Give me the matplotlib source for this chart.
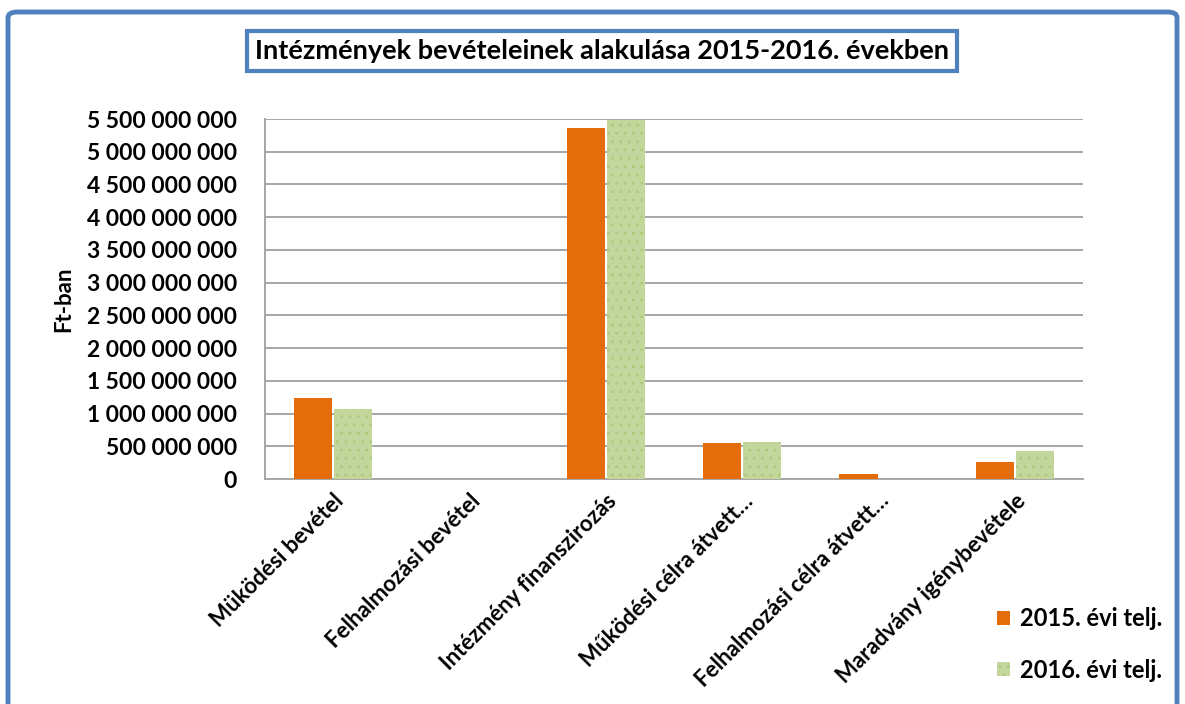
import numpy as np
import matplotlib.pyplot as plt
from matplotlib.patches import FancyBboxPatch
from matplotlib.ticker import FuncFormatter

plt.rcParams['font.family'] = ['Lato', 'DejaVu Sans']
plt.rcParams['hatch.linewidth'] = 0.8

# Data (Ft)
categories = ['Müködési bevétel', 'Felhalmozási bevétel', 'Intézmény finanszirozás',
              'Működési célra átvett…', 'Felhalmozási célra átvett…', 'Maradvány igénybevétele']
telj_2015 = [1_233_000_000, 0, 5_358_000_000, 545_000_000, 72_000_000, 255_000_000]
telj_2016 = [1_069_000_000, 0, 5_485_000_000, 565_000_000, 0, 428_000_000]
series_names = ['2015. évi telj.', '2016. évi telj.']

fig = plt.figure(figsize=(11.85, 7.04), dpi=100)

# outer blue rounded frame (bottom runs off the picture)
frame = FancyBboxPatch((8 / 1185, -0.05), 1169 / 1185, 1 - 12 / 704 + 0.05,
                       boxstyle='round,pad=0,rounding_size=0.008',
                       transform=fig.transFigure, fill=False,
                       edgecolor='#4F81BD', linewidth=3.5)
fig.patches.append(frame)

ax = fig.add_axes([265 / 1185, 1 - 479 / 704, 818 / 1185, 360 / 704])

x = np.arange(len(categories))
w = 0.28
ax.bar(x - w / 2 - 0.007, telj_2015, w, color='#E46C0A', label=series_names[0], zorder=3)
ax.bar(x + w / 2 + 0.007, telj_2016, w, color='#C3D69B', edgecolor='#A8CC78',
       hatch='..', linewidth=0, label=series_names[1], zorder=3)

ax.set_ylim(0, 5_500_000_000)
ax.set_xlim(-0.5, len(categories) - 0.5)
ax.set_yticks(np.arange(0, 5_500_000_001, 500_000_000))
ax.yaxis.set_major_formatter(FuncFormatter(lambda v, p: f'{int(v):,}'.replace(',', ' ')))
ax.grid(axis='y', color='#A6A6A6', linewidth=1.4, zorder=0)
ax.set_axisbelow(True)

for s in ['top', 'right']:
    ax.spines[s].set_visible(False)
for s in ['left', 'bottom']:
    ax.spines[s].set_color('#A6A6A6')
    ax.spines[s].set_linewidth(1.4)

ax.tick_params(axis='y', length=0, pad=20, labelsize=16.5)
ax.tick_params(axis='x', length=0, pad=8, labelsize=16)
for t in ax.get_yticklabels():
    t.set_fontweight('bold')

ax.set_xticks(x)
ax.set_xticklabels(categories, rotation=45, ha='right', rotation_mode='anchor',
                   fontweight='bold')

ax.set_ylabel('Ft-ban', fontsize=16, fontweight='bold', labelpad=9)

fig.text(602 / 1185, 1 - 51 / 704, 'Intézmények bevételeinek alakulása 2015-2016. években',
         ha='center', va='center', fontsize=19.5, fontweight='bold',
         bbox=dict(boxstyle='square,pad=0.3', facecolor='white',
                   edgecolor='#4F81BD', linewidth=3))

fig.legend(loc='upper left', bbox_to_anchor=(976 / 1185, 1 - 586 / 704),
           frameon=False, prop={'size': 17, 'weight': 'bold'},
           handlelength=0.55, handleheight=0.55, labelspacing=1.2, handletextpad=0.4)

fig.savefig('out.png', dpi=100)
